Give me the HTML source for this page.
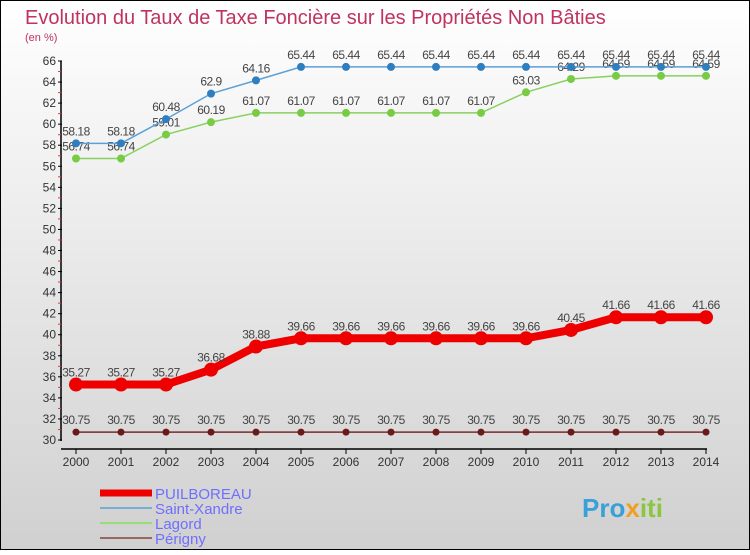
<!DOCTYPE html>
<html><head><meta charset="utf-8"><style>
body{margin:0;width:750px;height:550px;overflow:hidden;font-family:"Liberation Sans",sans-serif}
svg text{font-family:"Liberation Sans",sans-serif}
</style></head><body>
<svg id="c" width="750" height="550" xmlns="http://www.w3.org/2000/svg">
<defs><linearGradient id="bg" x1="0" y1="0" x2="0" y2="1"><stop offset="0" stop-color="#ffffff"/><stop offset="1" stop-color="#d0d0d0"/></linearGradient></defs>
<rect x="0.5" y="0.5" width="749" height="549" fill="url(#bg)" stroke="#000"/>
<text x="25" y="24" font-size="20" fill="#c0335e">Evolution du Taux de Taxe Foncière sur les Propriétés Non Bâties</text>
<text x="25" y="41" font-size="11" fill="#c0335e">(en %)</text>
<g id="axes"></g><g id="series"></g>
<g>
<line x1="100" y1="493" x2="152" y2="493" stroke="#ee0000" stroke-width="7"/>
<text x="155" y="499" font-size="15" fill="#6f6fff">PUILBOREAU</text>
<line x1="100" y1="508" x2="152" y2="508" stroke="#7aaed0" stroke-width="2"/>
<text x="155" y="514" font-size="15" fill="#6f6fff">Saint-Xandre</text>
<line x1="100" y1="523" x2="152" y2="523" stroke="#99dd77" stroke-width="2"/>
<text x="155" y="529" font-size="15" fill="#6f6fff">Lagord</text>
<line x1="100" y1="538" x2="152" y2="538" stroke="#996666" stroke-width="2"/>
<text x="155" y="544" font-size="15" fill="#6f6fff">Périgny</text>
</g>
<text x="582" y="517" font-size="26" font-weight="bold" fill="#3aa0d8">Pro<tspan fill="#f0a020">x</tspan><tspan fill="#8cc63f">iti</tspan></text>
</svg>
<script>
const years=[2000,2001,2002,2003,2004,2005,2006,2007,2008,2009,2010,2011,2012,2013,2014];
const yTicks=[30,32,34,36,38,40,42,44,46,48,50,52,54,56,58,60,62,64,66];
const puilboreau=[35.27,35.27,35.27,36.68,38.88,39.66,39.66,39.66,39.66,39.66,39.66,40.45,41.66,41.66,41.66];
const saintXandre=[58.18,58.18,60.48,62.9,64.16,65.44,65.44,65.44,65.44,65.44,65.44,65.44,65.44,65.44,65.44];
const lagord=[56.74,56.74,59.01,60.19,61.07,61.07,61.07,61.07,61.07,61.07,63.03,64.29,64.59,64.59,64.59];
const perigny=[30.75,30.75,30.75,30.75,30.75,30.75,30.75,30.75,30.75,30.75,30.75,30.75,30.75,30.75,30.75];
const NS="http://www.w3.org/2000/svg";
const xs=i=>76+i*45;
const ys=v=>440-(v-30)*(379/36);
function mk(p,t,a){const e=document.createElementNS(NS,t);for(const k in a)e.setAttribute(k,a[k]);p.appendChild(e);return e;}
const ax=document.getElementById('axes');
let l=mk(ax,'line',{x1:61,y1:61,x2:61,y2:441,stroke:'#000','stroke-width':1.5});


l=mk(ax,'line',{x1:61,y1:449,x2:707,y2:449,stroke:'#000','stroke-width':1.5});


yTicks.forEach(v=>{
 mk(ax,'line',{x1:58,y1:ys(v),x2:62,y2:ys(v),stroke:'#000'});
 if(v<66) mk(ax,'line',{x1:58,y1:ys(v+1),x2:61,y2:ys(v+1),stroke:'#e33'});
 const t=mk(ax,'text',{x:56,y:ys(v)+4,'font-size':12,fill:'#333','text-anchor':'end'});
 t.textContent=v;
 
 
});
years.forEach((y,i)=>{
 mk(ax,'line',{x1:xs(i),y1:449,x2:xs(i),y2:454,stroke:'#000'});
 const t=mk(ax,'text',{x:xs(i),y:466,'font-size':12,fill:'#333','text-anchor':'middle'});
 t.textContent=y;
 
 
});
const sg=document.getElementById('series');
function draw(data,name,color,w,r,dot){
 const g=mk(sg,'g',{});
 
 
 const pl=mk(g,'polyline',{points:data.map((v,i)=>xs(i)+','+ys(v)).join(' '),fill:'none',stroke:color,'stroke-width':w});
 
 
 data.forEach((v,i)=>{
  const c=mk(g,'circle',{cx:xs(i),cy:ys(v),r:r,fill:dot});
  
  
  const t=mk(g,'text',{x:xs(i),y:ys(v)-8,'font-size':12,fill:'#444','text-anchor':'middle','letter-spacing':'-0.5'});
  t.textContent=v;
  
  
 });
}
draw(perigny,'perigny','#7a2a2a',1.5,3.5,'#6b1a1a');
draw(lagord,'lagord','#88d060',1.5,4,'#77cc44');
draw(saintXandre,'saint-xandre','#5ba0d8',1.5,4,'#2f7fc0');
draw(puilboreau,'puilboreau','#ee0000',8,7,'#ee0000');
</script>
</body></html>
